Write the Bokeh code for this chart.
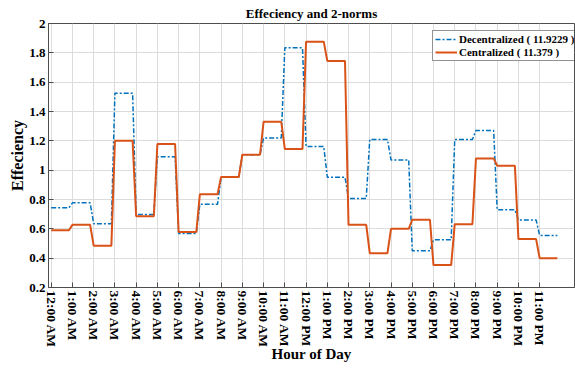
from bokeh.plotting import figure
from bokeh.models import FixedTicker, Range1d, Legend, LegendItem
from bokeh.embed import file_html
from bokeh.resources import INLINE

hours = list(range(24))
hour_labels = ["12:00 AM", "1:00 AM", "2:00 AM", "3:00 AM", "4:00 AM", "5:00 AM",
               "6:00 AM", "7:00 AM", "8:00 AM", "9:00 AM", "10:00 AM", "11:00 AM",
               "12:00 PM", "1:00 PM", "2:00 PM", "3:00 PM", "4:00 PM", "5:00 PM",
               "6:00 PM", "7:00 PM", "8:00 PM", "9:00 PM", "10:00 PM", "11:00 PM"]
decentralized = [0.743, 0.777, 0.634, 1.525, 0.698, 1.091, 0.569, 0.768,
                 0.952, 1.105, 1.220, 1.834, 1.162, 0.952, 0.807, 1.209,
                 1.070, 0.450, 0.525, 1.209, 1.270, 0.730, 0.660, 0.555]
centralized = [0.590, 0.627, 0.485, 1.200, 0.686, 1.178, 0.578, 0.836,
               0.954, 1.105, 1.330, 1.145, 1.876, 1.745, 0.627, 0.434,
               0.600, 0.662, 0.353, 0.632, 1.080, 1.030, 0.530, 0.400]
dec_label = "Decentralized ( 11.9229 )"
cen_label = "Centralized ( 11.379 )"
y_ticks = [0.2, 0.4, 0.6, 0.8, 1.0, 1.2, 1.4, 1.6, 1.8, 2.0]

HOLD = 5 / 6  # each hourly value is held for 50 min, then ramps to the next


def steps(vals):
    xs, ys = [], []
    for h, v in zip(hours, vals):
        xs += [h, h + HOLD]
        ys += [v, v]
    return xs, ys


FONT = "Liberation Serif"
AX = "#4d4d4d"
BLUE = "#0072BD"
RED = "#D95319"

p = figure(width=575, height=370, output_backend="svg", toolbar_location=None,
           x_range=Range1d(-0.127, 24.64), y_range=Range1d(0.2, 2.0),
           min_border_left=48, min_border_right=1, min_border_top=23,
           min_border_bottom=83, title="Effeciency and 2-norms")
p.title.align = "center"
p.title.text_font = FONT
p.title.text_font_size = "13px"
p.title.text_font_style = "bold"
p.title.text_color = "black"
p.title.standoff = 6
p.title.offset = 0

p.background_fill_color = "white"
p.border_fill_color = "white"
p.outline_line_color = AX
p.outline_line_width = 1

xs, ys = steps(decentralized)
r1 = p.line(xs, ys, line_color=BLUE, line_width=1.5, line_dash="5 2 2 2")
xs, ys = steps(centralized)
r2 = p.line(xs, ys, line_color=RED, line_width=2)

xa = p.xaxis[0]
xa.ticker = FixedTicker(ticks=hours)
xa.major_label_overrides = {h: lab for h, lab in zip(hours, hour_labels)}
xa.major_label_orientation = "vertical"
xa.axis_label = "Hour of Day"
ya = p.yaxis[0]
ya.ticker = FixedTicker(ticks=y_ticks)
ya.major_label_overrides = {t: ("1" if t == 1.0 else "2" if t == 2.0 else f"{t:.1f}") for t in y_ticks}
ya.axis_label = "Effeciency"

for ax in (xa, ya):
    ax.major_label_text_font = FONT
    ax.major_label_text_font_style = "bold"
    ax.major_label_text_color = "black"
    ax.axis_label_text_font = FONT
    ax.axis_label_text_font_style = "bold"
    ax.axis_label_text_color = "black"
    ax.axis_line_color = AX
    ax.major_tick_line_color = AX
    ax.major_tick_in = 5
    ax.major_tick_out = 0
    ax.minor_tick_line_color = None
xa.major_label_standoff = 3
xa.axis_label_standoff = -5
ya.major_label_standoff = 3
ya.axis_label_standoff = 0
xa.major_label_text_font_size = "13.5px"
ya.major_label_text_font_size = "13px"
xa.axis_label_text_font_size = "15px"
ya.axis_label_text_font_size = "16px"

p.xgrid.ticker = FixedTicker(ticks=hours)
p.ygrid.ticker = FixedTicker(ticks=y_ticks)
p.grid.grid_line_color = "#dcdcdc"
p.grid.grid_line_width = 1

legend = Legend(items=[LegendItem(label=dec_label, renderers=[r1]),
                       LegendItem(label=cen_label, renderers=[r2])],
                location=(384, 226))
legend.label_text_font = FONT
legend.label_text_font_style = "bold"
legend.label_text_font_size = "11px"
legend.label_text_color = "black"
legend.label_height = 12
legend.glyph_height = 12
legend.glyph_width = 22
legend.label_standoff = 2
legend.spacing = 1
legend.padding = 2
legend.margin = 0
legend.border_line_color = "#262626"
legend.border_line_width = 1
legend.background_fill_alpha = 1
p.add_layout(legend)

open("out.html", "w").write(file_html(p, INLINE))
